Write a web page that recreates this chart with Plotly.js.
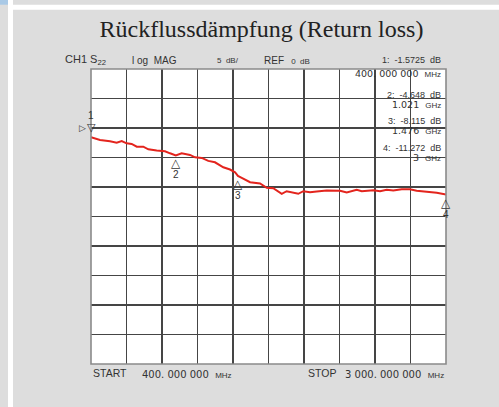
<!DOCTYPE html>
<html>
<head>
<meta charset="utf-8">
<script src="https://cdn.plot.ly/plotly-3.0.1.min.js"></script>
<style>html,body{margin:0;padding:0;background:#dddddd;}#chart{width:499px;height:407px;}</style>
</head>
<body>
<div id="chart"></div>
<script>
// Trace data (frequency in MHz, return loss in dB)
const freqMHz = [400, 466, 539, 588, 625, 661, 698, 735, 783, 820, 881, 942, 979, 1021, 1064, 1125, 1162, 1211, 1259, 1308, 1369, 1418, 1455, 1476, 1504, 1565, 1638, 1687, 1735, 1760, 1797, 1833, 1870, 1918, 1955, 2004, 2053, 2077, 2126, 2224, 2273, 2346, 2383, 2468, 2517, 2566, 2614, 2676, 2736, 2785, 2859, 2932, 3000];
const lossDB = [-1.57, -2.03, -2.26, -2.48, -2.20, -2.60, -2.70, -3.16, -3.16, -3.61, -3.83, -3.95, -4.29, -4.648, -4.29, -4.56, -4.97, -5.07, -5.57, -5.81, -6.66, -7.04, -7.50, -8.115, -8.45, -9.19, -9.41, -10.14, -10.20, -10.59, -11.15, -10.71, -10.93, -11.15, -10.71, -10.88, -10.76, -10.71, -10.59, -10.64, -10.93, -10.47, -10.71, -10.54, -10.71, -10.47, -10.59, -10.37, -10.37, -10.64, -10.81, -10.98, -11.272];

// Markers
const markerIds = ['1', '2', '3', '4'];
const markerFreq = [400, 1021, 1476, 3000];
const markerDB = [-1.5725, -4.648, -8.115, -11.272];
const markerFreqLabels = ['400.\u00a0000\u00a0000', '1.021', '1.476', '3'];
const markerFreqUnits = ['MHz', 'GHz', 'GHz', 'GHz'];

// Axis settings
const startMHz = 400, stopMHz = 3000;
const startLabel = '400.\u00a0000\u00a0000', stopLabel = '3\u00a0000.\u00a0000\u00a0000';
const refDB = 0, dbPerDiv = 5;

const txt = '#333333';
const sans = 'Liberation Sans, Arial, sans-serif';
const wide = 'DejaVu Sans, sans-serif';
const NB = '\u00a0';

const ann = [];
function A(o){ ann.push(Object.assign({xref:'paper', yref:'paper', showarrow:false, yanchor:'middle', font:{family:sans, size:10, color:txt}}, o)); }

// header line
A({x:-0.079, y:1.029, xanchor:'left', text:'CH1 S<sub>22</sub>', font:{family:sans, size:11, color:txt}});
A({x:0.110, y:1.029, xanchor:'left', text:'l og' + NB + ' MAG'});
A({x:0.349, y:1.029, xanchor:'left', text:'5' + NB + ' dB/', font:{family:sans, size:8, color:txt}});
A({x:0.482, y:1.029, xanchor:'left', text:'REF <span style="font-size:8px">' + NB + ' 0' + NB + ' dB</span>'});
// marker readouts (right column)
const readY = [[1.029, 0.985], [0.9105, 0.880], [0.8226, 0.7922], [0.7314, 0.701]];
for (let i = 0; i < markerIds.length; i++) {
  A({x:0.9915, y:readY[i][0], xanchor:'right', text:markerIds[i] + ':' + NB + ' ' + markerDB[i] + NB + ' dB', font:{family:sans, size:9, color:txt}});
  A({x:0.9915, y:readY[i][1], xanchor:'right', text:markerFreqLabels[i] + NB + ' <span style="font-size:8px;font-family:Liberation Sans">' + markerFreqUnits[i] + '</span>', font:{family:wide, size:9.5, color:txt}});
}
// footer
A({x:0, y:-0.029, xanchor:'left', text:'START', font:{family:sans, size:10.5, color:txt}});
A({x:0.138, y:-0.035, xanchor:'left', text:startLabel + NB + ' <span style="font-size:8px;font-family:Liberation Sans">MHz</span>', font:{family:wide, size:10, color:txt}});
A({x:0.6056, y:-0.029, xanchor:'left', text:'STOP', font:{family:sans, size:10.5, color:txt}});
A({x:1.0, y:-0.035, xanchor:'right', text:stopLabel + NB + ' <span style="font-size:8px;font-family:Liberation Sans">MHz</span>', font:{family:wide, size:10, color:txt}});

// marker glyphs
for (let i = 0; i < markerIds.length; i++) {
  if (i === 0) {
    ann.push({xref:'x', yref:'y', x:markerFreq[i], y:markerDB[i], showarrow:false, xanchor:'center', yanchor:'bottom', yshift:1, text:'▽', font:{family:'DejaVu Sans', size:11, color:txt}});
    ann.push({xref:'x', yref:'y', x:markerFreq[i], y:markerDB[i], showarrow:false, xanchor:'center', yanchor:'bottom', yshift:14, text:markerIds[i], font:{family:sans, size:10, color:txt}});
  } else {
    ann.push({xref:'x', yref:'y', x:markerFreq[i], y:markerDB[i], showarrow:false, xanchor:'center', yanchor:'top', yshift:1, text:'△', font:{family:'DejaVu Sans', size:12, color:txt}});
    ann.push({xref:'x', yref:'y', x:markerFreq[i], y:markerDB[i], showarrow:false, xanchor:'center', yanchor:'top', yshift:-12, text:markerIds[i], font:{family:sans, size:10, color:txt}});
  }
}
// reference level pointer
ann.push({xref:'x', yref:'y', x:startMHz, y:refDB, showarrow:false, xanchor:'right', yanchor:'middle', xshift:-3, text:'▷', font:{family:'DejaVu Sans', size:9, color:txt}});

const shapes = [
  {type:'rect', xref:'paper', yref:'paper', x0:-0.2338, x1:-0.2197, y0:-0.2, y1:1.3, fillcolor:'#ffffff', line:{width:0}, layer:'below'},
  {type:'rect', xref:'paper', yref:'paper', x0:-0.2197, x1:1.2, y0:1.2010, y1:1.2179, fillcolor:'#ffffff', line:{width:0}, layer:'below'},
  {type:'rect', xref:'paper', yref:'paper', x0:-0.3, x1:-0.2338, y0:1.2179, y1:1.3, fillcolor:'#a9c9e6', line:{width:0}, layer:'below'},
  {type:'rect', xref:'paper', yref:'paper', x0:0, x1:1, y0:0, y1:1, line:{color:'#8a8a8a', width:1.6}, fillcolor:'rgba(0,0,0,0)'}
];

const data = [{
  x: freqMHz, y: lossDB, type:'scatter', mode:'lines',
  line:{color:'#e3241d', width:2}, hoverinfo:'skip'
}];

const layout = {
  width:499, height:407,
  paper_bgcolor:'#dddddd', plot_bgcolor:'#ffffff',
  margin:{l:91, r:53, t:68.5, b:42.5},
  showlegend:false,
  title:{text:'Rückflussdämpfung (Return loss)', xref:'container', yref:'container', x:0.524, y:0.929, xanchor:'center', yanchor:'middle', font:{family:'Liberation Serif, Times New Roman, serif', size:24, color:'#222222'}},
  xaxis:{range:[startMHz, stopMHz], tick0:startMHz, dtick:(stopMHz-startMHz)/10, showticklabels:false, ticks:'', showgrid:true, gridcolor:'#454545', gridwidth:1.3, zeroline:false, showline:false, fixedrange:true},
  yaxis:{range:[refDB-8*dbPerDiv, refDB+2*dbPerDiv], tick0:refDB, dtick:dbPerDiv, showticklabels:false, ticks:'', showgrid:true, gridcolor:'#454545', gridwidth:1.3, zeroline:false, showline:false, fixedrange:true},
  annotations: ann,
  shapes: shapes
};

Plotly.newPlot('chart', data, layout, {displayModeBar:false, staticPlot:true});
</script>
</body>
</html>
